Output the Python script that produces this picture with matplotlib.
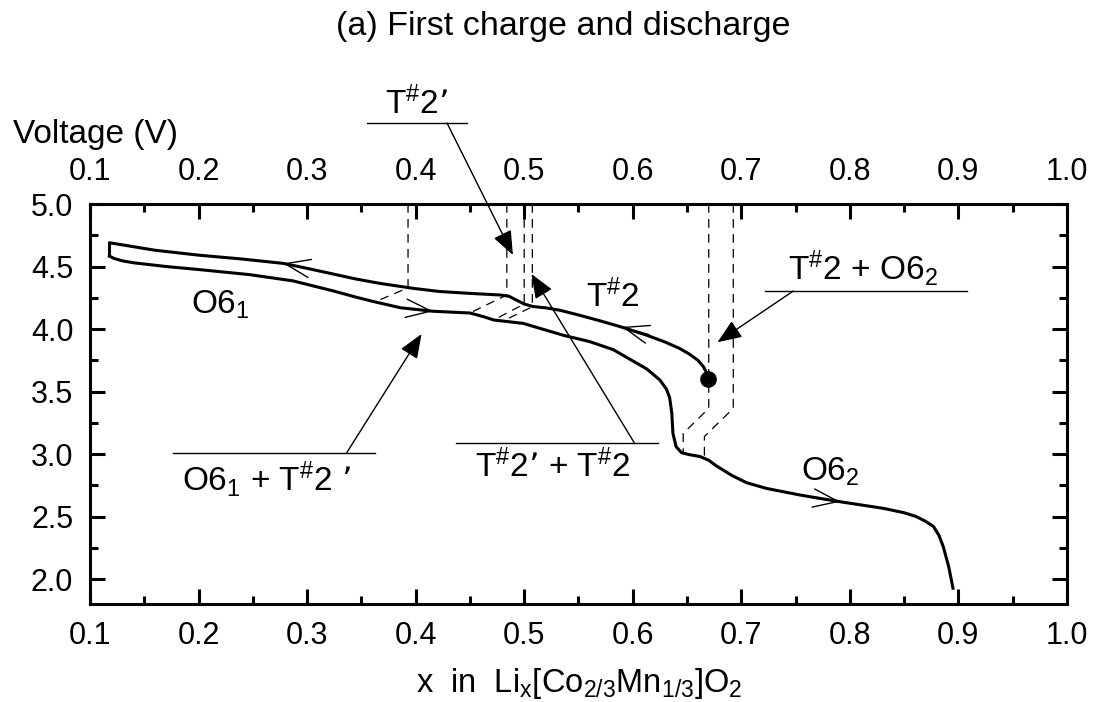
import matplotlib
matplotlib.use("Agg")
import matplotlib.pyplot as plt
from matplotlib.ticker import MultipleLocator

plt.rcParams['font.family'] = ['Liberation Sans', 'DejaVu Sans']
plt.rcParams['mathtext.default'] = 'regular'

# charge branch (from pristine dot, going to low x)
charge_x = [0.669, 0.668, 0.665, 0.660, 0.652, 0.643, 0.630, 0.613, 0.588, 0.570,
            0.551, 0.533, 0.521, 0.508, 0.500, 0.492, 0.486, 0.478, 0.450, 0.422,
            0.398, 0.367, 0.345, 0.324, 0.300, 0.278, 0.240, 0.201, 0.160, 0.118,
            0.118]
charge_v = [3.60, 3.65, 3.70, 3.75, 3.80, 3.845, 3.895, 3.95, 4.02, 4.065,
            4.11, 4.15, 4.168, 4.18, 4.20, 4.235, 4.262, 4.272, 4.285, 4.30,
            4.325, 4.365, 4.40, 4.44, 4.485, 4.525, 4.56, 4.59, 4.63, 4.69,
            4.584]

# discharge branch
disch_x = [0.118, 0.122, 0.130, 0.140, 0.170, 0.201, 0.247, 0.287, 0.324, 0.345,
           0.361, 0.386, 0.416, 0.440, 0.450, 0.462, 0.472, 0.499, 0.536, 0.560,
           0.582, 0.597, 0.613, 0.625, 0.631, 0.634, 0.636, 0.637, 0.640, 0.645,
           0.652, 0.662, 0.670, 0.677, 0.692, 0.705, 0.723, 0.754, 0.791, 0.831,
           0.850, 0.861, 0.870, 0.877, 0.882, 0.886, 0.891, 0.895]
disch_v = [4.584, 4.565, 4.545, 4.53, 4.50, 4.475, 4.435, 4.385, 4.305, 4.255,
           4.22, 4.17, 4.142, 4.132, 4.128, 4.10, 4.072, 4.045, 3.95, 3.90,
           3.835, 3.76, 3.68, 3.592, 3.52, 3.45, 3.325, 3.165, 3.058, 3.01,
           2.995, 2.98, 2.95, 2.905, 2.825, 2.77, 2.725, 2.672, 2.618, 2.565,
           2.53, 2.50, 2.46, 2.42, 2.35, 2.26, 2.10, 1.926]

# phase boundary dashed guides (x, V)
guides = [
    ([0.393, 0.393, 0.362], [5.0, 4.33, 4.215]),
    ([0.484, 0.484, 0.450], [5.0, 4.272, 4.128]),
    ([0.500, 0.500, 0.4715], [5.0, 4.20, 4.07]),
    ([0.5075, 0.5075, 0.480], [5.0, 4.178, 4.062]),
    ([0.670, 0.670, 0.6465, 0.6465], [5.0, 3.365, 3.165, 3.0]),
    ([0.6926, 0.6926, 0.666, 0.666], [5.0, 3.365, 3.14, 2.96]),
]

# direction arrows on curve: (tip, tail)
dir_arrows = [
    ((0.278, 4.525), (0.305, 4.48)),
    ((0.416, 4.142), (0.392, 4.165)),
    ((0.590, 4.017), (0.615, 3.955)),
    ((0.791, 2.618), (0.766, 2.648)),
]

# labelled phase annotations: text, text pos, underline x-range, underline y, arrow start, arrow tip
notes = [
    ("T$^{\\#}$2’", (0.401, 5.80), (0.3552, 0.4473), 5.648, (0.4289, 5.648), (0.4896, 4.592)),
    ("T$^{\\#}$2’ + T$^{\\#}$2", (0.5265, 2.90), (0.4371, 0.6235), 3.09, (0.6014, 3.09), (0.5067, 4.44)),
    ("O6$_1$ + T$^{\\#}$2 ’", (0.2628, 2.80), (0.1762, 0.3625), 3.01, (0.3365, 3.01), (0.4055, 3.96)),
    ("T$^{\\#}$2 + O6$_2$", (0.812, 4.49), (0.7218, 0.9081), 4.304, (0.7479, 4.304), (0.678, 3.894)),
]

phase_labels = ["O6$_1$", "T$^{\\#}$2", "O6$_2$"]
phase_pos = [(0.22, 4.19), (0.582, 4.26), (0.782, 2.86)]

fig = plt.figure(figsize=(10.93, 7.02), dpi=100)
ax = fig.add_axes([0.0823, 0.1396, 0.8939, 0.5698])

ax.plot(charge_x, charge_v, color='black', lw=2.2, solid_joinstyle='round')
ax.plot(disch_x, disch_v, color='black', lw=2.2, solid_joinstyle='round')
ax.plot(charge_x[0], charge_v[0], 'o', color='black', ms=11)

for gx, gv in guides:
    ax.plot(gx, gv, color='black', lw=0.9, linestyle=(0, (7, 5)))

for tip, tail in dir_arrows:
    ax.annotate('', xy=tip, xytext=tail,
                arrowprops=dict(arrowstyle='->,head_length=0.9,head_width=0.33',
                                color='black', lw=1.0, mutation_scale=20,
                                shrinkA=0, shrinkB=0))

for txt, tpos, ux, uy, astart, atip in notes:
    ax.text(tpos[0], tpos[1], txt, fontsize=24, ha='center', va='center', clip_on=False)
    ax.plot(ux, [uy, uy], color='black', lw=1.0, clip_on=False)
    ax.annotate('', xy=atip, xytext=astart, annotation_clip=False,
                arrowprops=dict(arrowstyle='-|>,head_length=0.75,head_width=0.3',
                                color='black', lw=1.0, mutation_scale=20,
                                shrinkA=0, shrinkB=0))

for lab, (px, py) in zip(phase_labels, phase_pos):
    ax.text(px, py, lab, fontsize=24, ha='center', va='center')

ax.set_xlim(0.1, 1.0)
ax.set_ylim(1.8, 5.0)
ax.xaxis.set_major_locator(MultipleLocator(0.1))
ax.xaxis.set_minor_locator(MultipleLocator(0.05))
ax.yaxis.set_major_locator(MultipleLocator(0.5))
ax.yaxis.set_minor_locator(MultipleLocator(0.25))
ax.tick_params(which='both', direction='in', top=True, right=True,
               labeltop=True, labelbottom=True, width=2.2, labelsize=22)
ax.tick_params(which='major', length=11, pad=12)
ax.tick_params(which='minor', length=6)
for s in ax.spines.values():
    s.set_linewidth(2.2)

fig.text(13 / 1093, 1 - 135 / 702, "Voltage (V)", fontsize=24, ha='left', va='center')
fig.text(563 / 1093, 1 - 27 / 702, "(a) First charge and discharge", fontsize=24.5,
         ha='center', va='center')
fig.text(579 / 1093, 1 - 692 / 702, "x  in  Li$_x$[Co$_{2/3}$Mn$_{1/3}$]O$_2$",
         fontsize=23.5, ha='center', va='baseline')

fig.savefig("out.png", dpi=100)
